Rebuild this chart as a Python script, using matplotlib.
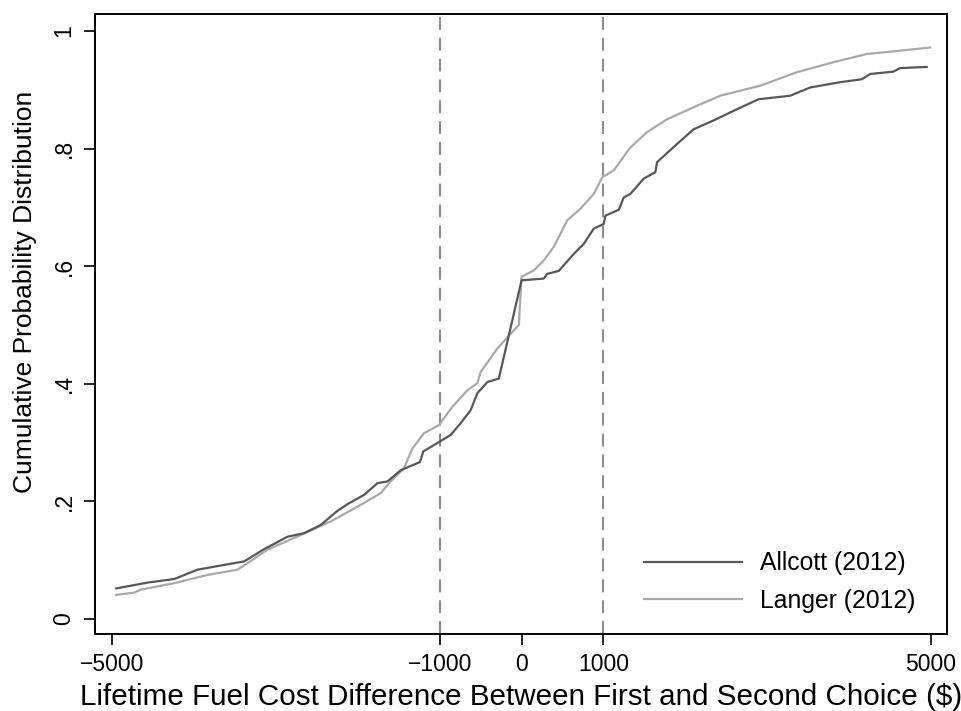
import numpy as np
import matplotlib
matplotlib.use("Agg")
import matplotlib.pyplot as plt

allcott_x = [-4950, -4565, -4240, -3955, -3630, -3386, -3142, -2857, -2655, -2451,
             -2248, -2106, -1923, -1760, -1638, -1476, -1240, -1200, -1008, -866,
             -744, -622, -540, -418, -277, 0, 272, 313, 455, 638,
             760, 882, 1004, 1024, 1187, 1248, 1329, 1492, 1634, 1655,
             1899, 2102, 2346, 2630, 2894, 3280, 3524, 3890, 4155, 4256,
             4541, 4622, 4947]
allcott_y = [0.052, 0.062, 0.068, 0.084, 0.092, 0.098, 0.119, 0.140, 0.146, 0.160,
             0.184, 0.197, 0.211, 0.231, 0.234, 0.253, 0.267, 0.285, 0.301, 0.313,
             0.333, 0.355, 0.384, 0.403, 0.409, 0.576, 0.579, 0.587, 0.592, 0.621,
             0.638, 0.664, 0.672, 0.686, 0.696, 0.717, 0.723, 0.749, 0.760, 0.777,
             0.808, 0.833, 0.848, 0.867, 0.884, 0.890, 0.904, 0.913, 0.918, 0.927,
             0.931, 0.937, 0.939]

langer_x = [-4950, -4728, -4646, -4240, -3833, -3467, -3345, -3101, -2695, -2329,
            -2004, -1720, -1598, -1435, -1394, -1333, -1191, -1008, -850, -662,
            -540, -500, -296, -134, -33, 0, 150, 272, 394, 557,
            720, 882, 984, 1126, 1329, 1533, 1777, 2143, 2427, 2915,
            3362, 3809, 4216, 4582, 4988]
langer_y = [0.041, 0.045, 0.050, 0.061, 0.075, 0.084, 0.095, 0.118, 0.143, 0.166,
            0.191, 0.214, 0.234, 0.256, 0.270, 0.290, 0.316, 0.330, 0.360, 0.389,
            0.401, 0.420, 0.460, 0.485, 0.500, 0.582, 0.593, 0.610, 0.633, 0.678,
            0.698, 0.723, 0.751, 0.763, 0.802, 0.828, 0.850, 0.873, 0.890, 0.907,
            0.930, 0.947, 0.961, 0.966, 0.972]

x_ticks = [-5000, -1000, 0, 1000, 5000]
x_labels = ["\u22125000", "\u22121000", "0", "1000", "5000"]
y_ticks = [0, 0.2, 0.4, 0.6, 0.8, 1]
y_labels = ["0", ".2", ".4", ".6", ".8", "1"]
ref_lines = [-1000, 1000]

plt.rcParams["font.family"] = ["Liberation Sans", "DejaVu Sans"]

fig = plt.figure(figsize=(9.61, 7.11), dpi=100)
ax = fig.add_axes([0.0989, 0.1083, 0.8865, 0.872])

for v in ref_lines:
    ax.axvline(v, color="#8c8c8c", lw=1.5, ls=(0, (6.2, 3.8)), zorder=1)

ax.plot(allcott_x, allcott_y, color="#575757", lw=1.6, label="Allcott (2012)", zorder=3)
ax.plot(langer_x, langer_y, color="#a8a8a8", lw=1.6, label="Langer (2012)", zorder=2)

ax.set_xlim(-5208, 5195)
ax.set_ylim(-0.0255, 1.029)

ax.set_xticks(x_ticks)
ax.set_xticklabels(x_labels, fontsize=16.5)
ax.set_yticks(y_ticks)
ax.set_yticklabels(y_labels, fontsize=16.5, rotation=90, va="center")
ax.tick_params(direction="out", length=8, width=1.2, pad=6)

for s in ax.spines.values():
    s.set_linewidth(1.4)

ax.set_xlabel("Lifetime Fuel Cost Difference Between First and Second Choice ($)", fontsize=21.3, labelpad=5)
ax.set_ylabel("Cumulative Probability Distribution", fontsize=19)
ax.yaxis.set_label_coords(-0.068, 0.5516)

ax.legend(loc="lower right", bbox_to_anchor=(0.9744, 0.0177), borderaxespad=0,
          frameon=False, fontsize=17.8, handlelength=3.95,
          handletextpad=0.72, labelspacing=0.56)

fig.savefig("out.png", dpi=100)
